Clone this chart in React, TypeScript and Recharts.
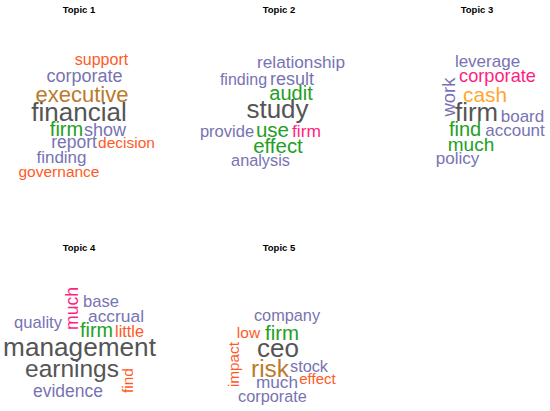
import React from 'react';
import { ScatterChart, Scatter, XAxis, YAxis } from 'recharts';

// palette keys used by the word arrays
const colors: Record<string, string> = {
  k: '#555555',
  p: '#7773b3',
  g: '#22a022',
  o: '#ff5a26',
  b: '#bb7a2c',
  m: '#ff1f80',
  y: '#ffa731',
};

const titles = ['Topic 1', 'Topic 2', 'Topic 3', 'Topic 4', 'Topic 5'];
const titleX = [79, 279, 477, 79, 279];
const titleY = [13, 13, 13, 251, 251];

// Topic 1
const t1Words = ['support', 'corporate', 'executive', 'financial', 'firm', 'show', 'report', 'decision', 'finding', 'governance'];
const t1X = [101.5, 84.5, 82, 79, 66.5, 105, 74, 126.5, 61.5, 59];
const t1Y = [65, 82, 102, 121, 136, 136, 148, 148, 163, 177];
const t1Weight = [16, 18, 22, 26, 20, 18, 17.5, 15.5, 17, 15.5];
const t1Color = ['o', 'p', 'b', 'k', 'g', 'p', 'p', 'o', 'p', 'o'];
const t1Rot = [0, 0, 0, 0, 0, 0, 0, 0, 0, 0];

// Topic 2
const t2Words = ['relationship', 'finding', 'result', 'audit', 'study', 'provide', 'use', 'firm', 'effect', 'analysis'];
const t2X = [301, 243.5, 292, 291, 277.5, 227, 272.5, 306.5, 278, 260.5];
const t2Y = [68, 85, 85, 100, 118, 137, 137, 137, 153, 166];
const t2Weight = [17.2, 16, 18, 20, 26, 16.5, 20.5, 17.4, 20.4, 16.3];
const t2Color = ['p', 'p', 'p', 'g', 'k', 'p', 'g', 'm', 'g', 'p'];
const t2Rot = [0, 0, 0, 0, 0, 0, 0, 0, 0, 0];

// Topic 3
const t3Words = ['leverage', 'corporate', 'work', 'cash', 'firm', 'board', 'find', 'account', 'much', 'policy'];
const t3X = [487.5, 497.5, 455, 485, 476.5, 522.5, 465, 515, 471, 457.5];
const t3Y = [67, 82, 97, 102, 121, 122, 136, 136, 151, 164];
const t3Weight = [17, 18.2, 18.5, 20.8, 25.8, 17, 20, 17, 19, 17];
const t3Color = ['p', 'm', 'p', 'y', 'k', 'p', 'g', 'p', 'g', 'p'];
const t3Rot = [0, 0, 1, 0, 0, 0, 0, 0, 0, 0];

// Topic 4
const t4Words = ['much', 'base', 'accrual', 'quality', 'firm', 'little', 'management', 'earnings', 'find', 'evidence'];
const t4X = [78, 101, 116, 38, 96.5, 129.5, 79.5, 72, 133, 68];
const t4Y = [308.5, 307, 322, 328, 337, 337, 356, 377, 380.5, 397];
const t4Weight = [17.6, 16.6, 17.4, 16.6, 19.8, 16.3, 26.2, 24.5, 15.5, 17.5];
const t4Color = ['m', 'p', 'p', 'p', 'g', 'o', 'k', 'k', 'o', 'p'];
const t4Rot = [1, 0, 0, 0, 0, 0, 0, 0, 1, 0];

// Topic 5
const t5Words = ['company', 'low', 'firm', 'ceo', 'impact', 'risk', 'stock', 'much', 'effect', 'corporate'];
const t5X = [287, 248.5, 282, 278, 238.8, 270, 309, 277, 317.5, 272.5];
const t5Y = [321, 338, 340, 357, 364.5, 377, 372, 388, 384, 402];
const t5Weight = [16.3, 15.5, 20.4, 26, 15.3, 24.4, 16.3, 17.2, 15.1, 16.3];
const t5Color = ['p', 'o', 'g', 'k', 'o', 'b', 'p', 'p', 'o', 'p'];
const t5Rot = [0, 0, 0, 0, 1, 0, 0, 0, 0, 0];

const topics = [
  [t1Words, t1X, t1Y, t1Weight, t1Color, t1Rot],
  [t2Words, t2X, t2Y, t2Weight, t2Color, t2Rot],
  [t3Words, t3X, t3Y, t3Weight, t3Color, t3Rot],
  [t4Words, t4X, t4Y, t4Weight, t4Color, t4Rot],
  [t5Words, t5X, t5Y, t5Weight, t5Color, t5Rot],
] as any[];

const topicData = topics.map(([words, xs, ys, ws, cs, rs]) =>
  words.map((w: string, i: number) => ({ word: w, x: xs[i], y: ys[i], size: ws[i], color: cs[i], rot: rs[i] }))
);

const titleData = titles.map((t, i) => ({ word: t, x: titleX[i], y: titleY[i] }));

const FONT = '"Liberation Sans", Arial, Helvetica, sans-serif';

const Word = (props: any) => {
  const { cx, cy, payload } = props;
  if (payload.rot) {
    return (
      <text
        x={cx}
        y={cy}
        transform={`rotate(-90 ${cx} ${cy})`}
        textAnchor="middle"
        fontFamily={FONT}
        fontSize={payload.size}
        fill={colors[payload.color]}
      >
        {payload.word}
      </text>
    );
  }
  return (
    <text x={cx} y={cy} textAnchor="middle" fontFamily={FONT} fontSize={payload.size} fill={colors[payload.color]}>
      {payload.word}
    </text>
  );
};

const Title = (props: any) => (
  <text x={props.cx} y={props.cy} textAnchor="middle" fontFamily={FONT} fontSize={9.5} fontWeight="bold" fill="#000">
    {props.payload.word}
  </text>
);

export default function App() {
  return (
    <div style={{ position: 'absolute', left: 0, top: 0, width: 550, height: 411, background: '#fff' }}>
      <ScatterChart width={550} height={411} margin={{ top: 0, right: 0, bottom: 0, left: 0 }}>
        <XAxis type="number" dataKey="x" domain={[0, 550]} hide />
        <YAxis type="number" dataKey="y" domain={[0, 411]} reversed hide />
        <Scatter data={titleData} shape={Title} isAnimationActive={false} />
        {topicData.map((d, i) => (
          <Scatter key={i} data={d} shape={Word} isAnimationActive={false} />
        ))}
      </ScatterChart>
    </div>
  );
}
